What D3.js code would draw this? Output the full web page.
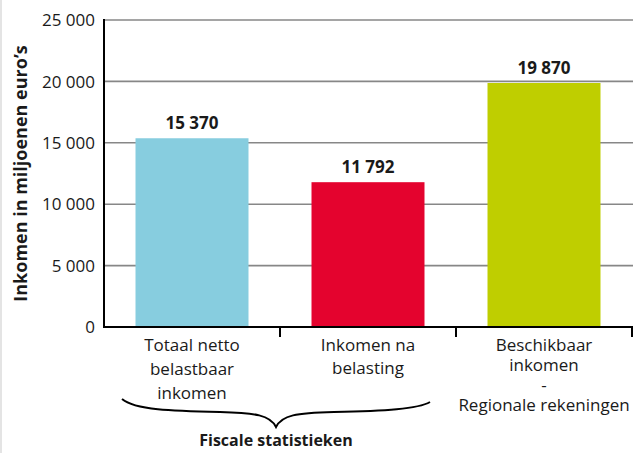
<!DOCTYPE html>
<html>
<head>
<meta charset="utf-8">
<script src="https://cdn.jsdelivr.net/npm/d3@7"></script>
<style>
  html, body { margin: 0; padding: 0; background: #fff; }
  svg { display: block; }
  text { font-family: "Open Sans", "Noto Sans", sans-serif; fill: #1a1a1a; }
</style>
</head>
<body>
<svg id="chart" width="635" height="453"></svg>
<script>
// ---- data ----
const categories = ["Totaal netto belastbaar inkomen", "Inkomen na belasting", "Beschikbaar inkomen - Regionale rekeningen"];
const categoryLines = [
  ["Totaal netto", "belastbaar", "inkomen"],
  ["Inkomen na", "belasting"],
  ["Beschikbaar", "inkomen", "-", "Regionale rekeningen"]
];
const values = [15370, 11792, 19870];
const barColors = ["#87CDDF", "#E4032E", "#BFCE00"];
const yTicks = [0, 5000, 10000, 15000, 20000, 25000];
const yTitle = "Inkomen in miljoenen euro’s";
const groupLabel = "Fiscale statistieken";

// ---- layout ----
const W = 635, H = 453;
const mLeft = 104, mRight = 632, mTop = 20, mBottom = 327;

const svg = d3.select("#chart");
const locale = d3.formatLocale({decimal: ",", thousands: " ", grouping: [3], currency: ["", ""]});
const fmt = locale.format(",d");

// left grey strip
svg.append("rect").attr("x", 0).attr("y", 0).attr("width", 2).attr("height", H).attr("fill", "#e4e4e4");

const x = d3.scaleBand().domain(categories).range([mLeft, mRight]).paddingInner(0.358).paddingOuter(0.179);
const y = d3.scaleLinear().domain([0, 25000]).range([mBottom, mTop]);

// gridlines
svg.append("g").selectAll("line").data(yTicks.filter(d => d > 0)).join("line")
  .attr("x1", mLeft).attr("x2", mRight + 1)
  .attr("y1", d => y(d)).attr("y2", d => y(d))
  .attr("stroke", "#878787").attr("stroke-width", 1.6);

// y tick labels
svg.append("g").selectAll("text").data(yTicks).join("text")
  .attr("x", mLeft - 9).attr("y", d => y(d)).attr("dy", "0.36em")
  .attr("text-anchor", "end").attr("font-size", 17)
  .text(d => fmt(d));

// bars
svg.append("g").selectAll("rect").data(values).join("rect")
  .attr("x", (d, i) => x(categories[i]))
  .attr("width", x.bandwidth())
  .attr("y", d => y(d))
  .attr("height", d => y(0) - y(d))
  .attr("fill", (d, i) => barColors[i]);

// value labels
svg.append("g").selectAll("text").data(values).join("text")
  .attr("x", (d, i) => x(categories[i]) + x.bandwidth() / 2)
  .attr("y", d => y(d) - 9)
  .attr("text-anchor", "middle").attr("font-size", 17).attr("font-weight", "bold")
  .text(d => fmt(d));

// axes lines
svg.append("line").attr("x1", mLeft).attr("x2", mLeft).attr("y1", mTop - 1).attr("y2", mBottom + 1)
  .attr("stroke", "#000").attr("stroke-width", 2);
svg.append("line").attr("x1", mLeft - 1).attr("x2", mRight + 1).attr("y1", mBottom).attr("y2", mBottom)
  .attr("stroke", "#000").attr("stroke-width", 2);

// category separators (ticks)
const step = x.step();
const sepX = categories.map((c, i) => x(c) + x.bandwidth() / 2 + step / 2);
svg.append("g").selectAll("line").data(sepX).join("line")
  .attr("x1", d => d).attr("x2", d => d)
  .attr("y1", mBottom).attr("y2", mBottom + 10)
  .attr("stroke", "#000").attr("stroke-width", 2);

// category labels
const lineGap = [24, 23, 20];
categoryLines.forEach((lines, i) => {
  const cx = x(categories[i]) + x.bandwidth() / 2;
  const t = svg.append("text").attr("text-anchor", "middle").attr("font-size", 17);
  lines.forEach((ln, j) => {
    t.append("tspan").attr("x", cx).attr("y", mBottom + 24 + j * lineGap[i]).text(ln);
  });
});

// brace under first two categories
const c0 = x(categories[0]) + x.bandwidth() / 2;
const c1 = x(categories[1]) + x.bandwidth() / 2;
const mid = (c0 + c1) / 2 - 4;
const bl = c0 - 70, br = c1 + 62;
const by = 400;
svg.append("path")
  .attr("d", `M${bl},${by - 1} C${bl + 13},${by + 10} ${bl + 50},${by + 11} ${bl + 98},${by + 12}
     C${mid - 20},${by + 13} ${mid - 6},${by + 15} ${mid},${by + 27}
     C${mid + 6},${by + 15} ${mid + 20},${by + 13} ${mid + 58},${by + 12}
     C${br - 45},${by + 11} ${br - 12},${by + 9} ${br},${by + 2}`)
  .attr("fill", "none").attr("stroke", "#000").attr("stroke-width", 2);

svg.append("text").attr("x", mid).attr("y", 446).attr("text-anchor", "middle")
  .attr("font-size", 16).attr("font-weight", "bold").text(groupLabel);

// y axis title
svg.append("text")
  .attr("transform", `translate(27, ${(mTop + mBottom) / 2}) rotate(-90)`)
  .attr("text-anchor", "middle").attr("font-size", 18).attr("font-weight", "bold")
  .text(yTitle);
</script>
</body>
</html>
